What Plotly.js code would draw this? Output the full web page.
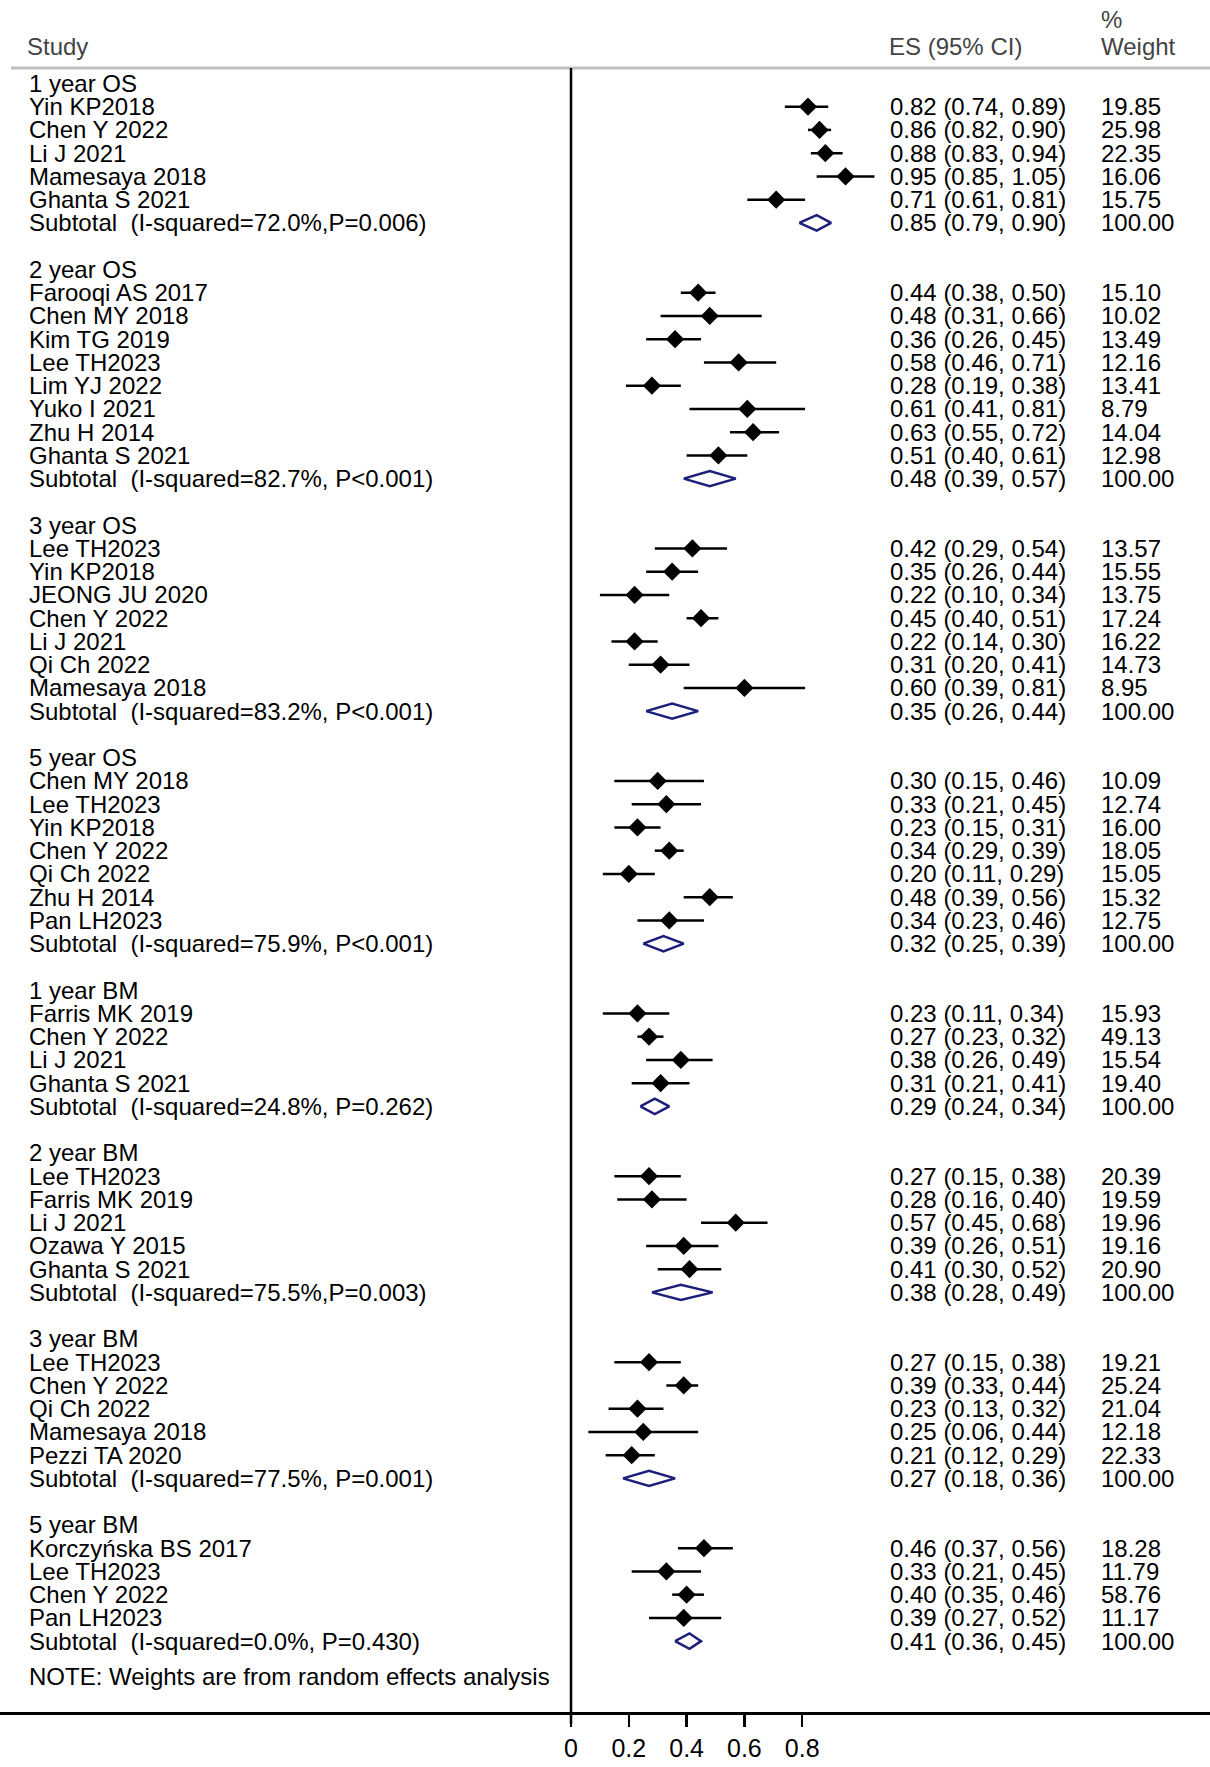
<!DOCTYPE html>
<html>
<head>
<meta charset="utf-8">
<script src="https://cdn.plot.ly/plotly-3.0.1.min.js"></script>
<style>body{margin:0;background:#fff}</style>
</head>
<body>
<div id="graphDiv" style="width:1210px;height:1767px"></div>
<script>
var groups = ['1 year OS', '2 year OS', '3 year OS', '5 year OS', '1 year BM', '2 year BM', '3 year BM', '5 year BM'];

var studyNames = [
  ['Yin KP2018', 'Chen Y 2022', 'Li J 2021', 'Mamesaya 2018', 'Ghanta S 2021'],
  ['Farooqi AS 2017', 'Chen MY 2018', 'Kim TG 2019', 'Lee TH2023', 'Lim YJ 2022', 'Yuko I 2021', 'Zhu H 2014', 'Ghanta S 2021'],
  ['Lee TH2023', 'Yin KP2018', 'JEONG JU 2020', 'Chen Y 2022', 'Li J 2021', 'Qi Ch 2022', 'Mamesaya 2018'],
  ['Chen MY 2018', 'Lee TH2023', 'Yin KP2018', 'Chen Y 2022', 'Qi Ch 2022', 'Zhu H 2014', 'Pan LH2023'],
  ['Farris MK 2019', 'Chen Y 2022', 'Li J 2021', 'Ghanta S 2021'],
  ['Lee TH2023', 'Farris MK 2019', 'Li J 2021', 'Ozawa Y 2015', 'Ghanta S 2021'],
  ['Lee TH2023', 'Chen Y 2022', 'Qi Ch 2022', 'Mamesaya 2018', 'Pezzi TA 2020'],
  ['Korczyńska BS 2017', 'Lee TH2023', 'Chen Y 2022', 'Pan LH2023']
];
var esVals = [
  [0.82, 0.86, 0.88, 0.95, 0.71],
  [0.44, 0.48, 0.36, 0.58, 0.28, 0.61, 0.63, 0.51],
  [0.42, 0.35, 0.22, 0.45, 0.22, 0.31, 0.60],
  [0.30, 0.33, 0.23, 0.34, 0.20, 0.48, 0.34],
  [0.23, 0.27, 0.38, 0.31],
  [0.27, 0.28, 0.57, 0.39, 0.41],
  [0.27, 0.39, 0.23, 0.25, 0.21],
  [0.46, 0.33, 0.40, 0.39]
];
var lciVals = [
  [0.74, 0.82, 0.83, 0.85, 0.61],
  [0.38, 0.31, 0.26, 0.46, 0.19, 0.41, 0.55, 0.40],
  [0.29, 0.26, 0.10, 0.40, 0.14, 0.20, 0.39],
  [0.15, 0.21, 0.15, 0.29, 0.11, 0.39, 0.23],
  [0.11, 0.23, 0.26, 0.21],
  [0.15, 0.16, 0.45, 0.26, 0.30],
  [0.15, 0.33, 0.13, 0.06, 0.12],
  [0.37, 0.21, 0.35, 0.27]
];
var uciVals = [
  [0.89, 0.90, 0.94, 1.05, 0.81],
  [0.50, 0.66, 0.45, 0.71, 0.38, 0.81, 0.72, 0.61],
  [0.54, 0.44, 0.34, 0.51, 0.30, 0.41, 0.81],
  [0.46, 0.45, 0.31, 0.39, 0.29, 0.56, 0.46],
  [0.34, 0.32, 0.49, 0.41],
  [0.38, 0.40, 0.68, 0.51, 0.52],
  [0.38, 0.44, 0.32, 0.44, 0.29],
  [0.56, 0.45, 0.46, 0.52]
];
var wtVals = [
  ['19.85', '25.98', '22.35', '16.06', '15.75'],
  ['15.10', '10.02', '13.49', '12.16', '13.41', '8.79', '14.04', '12.98'],
  ['13.57', '15.55', '13.75', '17.24', '16.22', '14.73', '8.95'],
  ['10.09', '12.74', '16.00', '18.05', '15.05', '15.32', '12.75'],
  ['15.93', '49.13', '15.54', '19.40'],
  ['20.39', '19.59', '19.96', '19.16', '20.90'],
  ['19.21', '25.24', '21.04', '12.18', '22.33'],
  ['18.28', '11.79', '58.76', '11.17']
];
var subLabels = [
  'Subtotal  (I-squared=72.0%,P=0.006)',
  'Subtotal  (I-squared=82.7%, P<0.001)',
  'Subtotal  (I-squared=83.2%, P<0.001)',
  'Subtotal  (I-squared=75.9%, P<0.001)',
  'Subtotal  (I-squared=24.8%, P=0.262)',
  'Subtotal  (I-squared=75.5%,P=0.003)',
  'Subtotal  (I-squared=77.5%, P=0.001)',
  'Subtotal  (I-squared=0.0%, P=0.430)'
];
var subEs = [0.85, 0.48, 0.35, 0.32, 0.29, 0.38, 0.27, 0.41];
var subLci = [0.79, 0.39, 0.26, 0.25, 0.24, 0.28, 0.18, 0.36];
var subUci = [0.90, 0.57, 0.44, 0.39, 0.34, 0.49, 0.36, 0.45];
var xTicks = [0, 0.2, 0.4, 0.6, 0.8];

var fontFam = 'Liberation Sans, Arial, sans-serif';
var fs = 24;
function fmt(e, l, u) { return e.toFixed(2) + ' (' + l.toFixed(2) + ', ' + u.toFixed(2) + ')'; }

var traces = [];
var ann = [];
var ptX = [], ptY = [];
var row = 0;
function txt(x, r, s) {
  ann.push({xref: 'paper', yref: 'y', x: x, y: r, text: s, showarrow: false,
    xanchor: 'left', yanchor: 'middle', borderpad: 0,
    font: {family: fontFam, size: fs, color: '#000'}});
}

for (var g = 0; g < groups.length; g++) {
  txt(28 / 1210, row, groups[g]);
  row++;
  for (var i = 0; i < studyNames[g].length; i++) {
    txt(28 / 1210, row, studyNames[g][i]);
    txt(889 / 1210, row, fmt(esVals[g][i], lciVals[g][i], uciVals[g][i]));
    txt(1100 / 1210, row, wtVals[g][i]);
    traces.push({x: [lciVals[g][i], uciVals[g][i]], y: [row, row], mode: 'lines',
      line: {color: '#000', width: 2.5}, hoverinfo: 'skip'});
    ptX.push(esVals[g][i]); ptY.push(row);
    row++;
  }
  txt(28 / 1210, row, subLabels[g]);
  txt(889 / 1210, row, fmt(subEs[g], subLci[g], subUci[g]));
  txt(1100 / 1210, row, '100.00');
  traces.push({x: [subLci[g], subEs[g], subUci[g], subEs[g], subLci[g]],
    y: [row, row - 0.33, row, row + 0.33, row], mode: 'lines',
    line: {color: '#1c1f7a', width: 2.5}, hoverinfo: 'skip'});
  row++;
  if (g < groups.length - 1) row++;
}
txt(28 / 1210, row + 0.5, 'NOTE: Weights are from random effects analysis');

traces.push({x: ptX, y: ptY, mode: 'markers', type: 'scatter',
  marker: {symbol: 'diamond', size: 14, color: '#000'}, hoverinfo: 'skip'});

// header
function head(x, ypx, s) {
  ann.push({xref: 'paper', yref: 'paper', x: x / 1210, y: 1 - ypx / 1767, text: s, showarrow: false,
    xanchor: 'left', yanchor: 'middle', borderpad: 0, font: {family: fontFam, size: fs}});
}
head(26, 46, 'Study');
head(888, 46, 'ES (95% CI)');
head(1100, 20, '%');
head(1100, 46, 'Weight');

var y0px = 83.4, rowPx = 23.25;
var yBottomDom = 1 - 1712 / 1767;
var layout = {
  width: 1210, height: 1767,
  margin: {l: 0, r: 0, t: 0, b: 0},
  showlegend: false,
  paper_bgcolor: '#fff', plot_bgcolor: '#fff',
  xaxis: {range: [-571 / 289, (1210 - 571) / 289], tickvals: xTicks, ticktext: ['0', '0.2', '0.4', '0.6', '0.8'],
    showgrid: false, zeroline: false, showline: true, linecolor: '#000', linewidth: 2.5,
    ticks: 'outside', ticklen: 12, tickwidth: 2.5, tickcolor: '#000',
    tickfont: {family: fontFam, size: 25, color: '#000'}, fixedrange: true},
  yaxis: {domain: [yBottomDom, 1], range: [(1712 - y0px) / rowPx, -y0px / rowPx],
    showgrid: false, zeroline: false, showticklabels: false, ticks: '', fixedrange: true},
  annotations: ann,
  shapes: [
    {type: 'line', xref: 'paper', yref: 'paper', x0: 11 / 1210, x1: 1, y0: 1 - 68 / 1767, y1: 1 - 68 / 1767,
      line: {color: '#c0c0c0', width: 3}},
    {type: 'line', xref: 'x', yref: 'paper', x0: 0, x1: 0, y0: 1 - 68 / 1767, y1: yBottomDom - 12 / 1767,
      line: {color: '#000', width: 2.5}}
  ]
};

Plotly.newPlot('graphDiv', traces, layout, {staticPlot: true});
</script>
</body>
</html>
